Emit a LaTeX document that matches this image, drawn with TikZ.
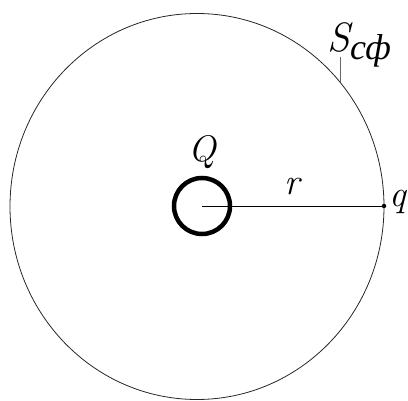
\documentclass[tikz,border=0pt]{standalone}
\usepackage{fontspec}
\newfontfamily\cyrfont{Liberation Serif}
\usetikzlibrary{positioning}

\begin{document}
\begin{tikzpicture}[x=1pt,y=-1pt,
  lbl/.style={font=\itshape\fontsize{37}{37}\selectfont,inner sep=0pt,anchor=base},
  slbl/.style={lbl,anchor=base west},
  dot/.style={circle,fill=black,inner sep=0pt,minimum size=4.5pt}]
 \useasboundingbox (0,0) rectangle (408,401);
 \clip (0,0) rectangle (408,401);
 \coordinate (o) at (202,206);
 \draw[line width=0.8pt,black!85] (197,206.5) ellipse [x radius=187,y radius=193];
 \draw[line width=4.5pt] (o) circle [radius=28];
 \node[dot] (q) at (384,206) {};
 \draw[line width=0.8pt] (o) -- (q);
 \node[lbl] (Q) at (202,162) {Q};
 \node[lbl] (r) at (292,195) {r};
 \node[slbl] (qlbl) at (389,207) {q};
 \node[slbl,font=\itshape\fontsize{41}{41}\selectfont] (S) at (327,52) {S};
 \node[slbl,font=\cyrfont\itshape\fontsize{36}{36}\selectfont,right=0pt of S.base east,anchor=base west,yshift=-8pt] (sf) {сф};
 \coordinate (s0) at (340,82);
 \coordinate (s1) at (340,57);
 \draw[line width=0.8pt,black!60] (s0) -- (s1);
\end{tikzpicture}
\end{document}
